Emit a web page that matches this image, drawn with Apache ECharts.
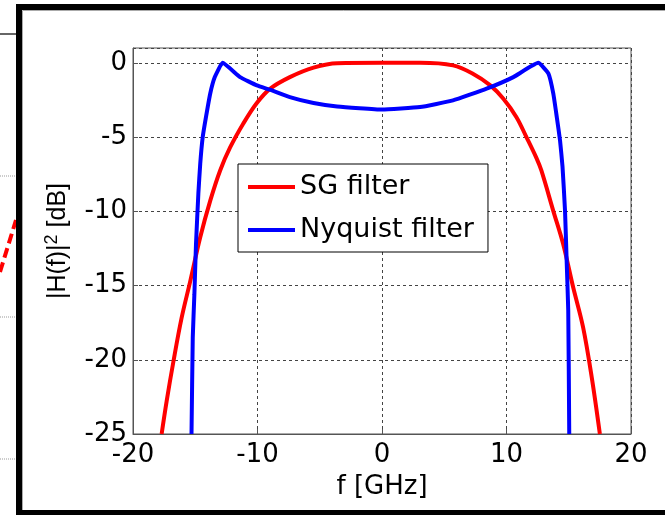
<!DOCTYPE html>
<html>
<head>
<meta charset="utf-8">
<script src="https://cdn.jsdelivr.net/npm/echarts@6/dist/echarts.min.js"></script>
<style>
    html, body {margin: 0; padding: 0; background: #fff;}
    #main {width: 665px; height: 515px;}
</style>
</head>
<body>
<div id="main"></div>
<script>
// values: f in GHz, |H(f)|^2 in dB
const sgFreq = [-17.7, -17.3, -16.75, -16.1, -15.4, -14.6, -13.8, -13.0, -12.2, -11.15, -10.1, -9.0, -7.4, -5.5, -3.6, 0,
    3.05, 5.7, 7.3, 8.7, 9.75, 10.8, 11.6, 12.4, 12.8, 13.75, 14.55, 15.35, 16.15, 16.85, 17.5];
const sgDb = [-25, -22.8, -20.1, -17.2, -14.7, -11.75, -9.3, -7.25, -5.7, -4.1, -2.75, -1.75, -0.96, -0.32, -0.02, 0,
    0, -0.17, -0.73, -1.52, -2.42, -3.66, -5.0, -6.4, -7.25, -9.95, -12.2, -15.1, -17.8, -21.2, -25];

const nyqFreq = [-15.3, -15.2, -15.07, -14.94, -14.75, -14.6, -14.4, -14.14, -13.8, -13.43, -12.8, -11.4, -10.05, -9.0, -7.4, -5.5, -3.6, 0,
    3.05, 5.7, 8.4, 10.55, 12.55, 13.37, 13.76, 14.04, 14.3, 14.5, 14.7, 14.83, 14.96, 15.04];
const nyqDb = [-25, -18.5, -15.6, -12.2, -8.8, -6.8, -5.0, -3.66, -2.08, -0.96, 0, -0.96, -1.52, -1.81, -2.31, -2.71, -2.94, -3.15,
    -2.98, -2.53, -1.74, -0.96, 0, -0.73, -2.08, -3.66, -5.23, -7.0, -9.95, -13.3, -16.7, -25];

const seriesNames = ['SG filter', 'Nyquist filter'];
const xTicks = {min: -20, max: 20, interval: 10};
const yTicks = {min: -25, max: 1, interval: 5};

// the picture is stretched sideways, so the wider DejaVu face fits the flat texts better
const FONT = 'DejaVu Sans';
const FONT_V = 'Liberation Sans';

function pairs(xs, ys) {
    return xs.map(function (x, i) {
        return [x, ys[i]];
    });
}

let myChart = echarts.init(document.getElementById('main'), null, {renderer: 'canvas'});

let option = {
    backgroundColor: '#fff',
    animation: false,
    textStyle: {fontFamily: FONT, color: '#000'},
    grid: {
        left: 133, right: 34, top: 48, bottom: 81,
        show: true, borderColor: '#555', borderWidth: 1, backgroundColor: '#fff'
    },
    legend: {
        data: seriesNames,
        orient: 'vertical',
        left: 238, top: 164,
        padding: [8, 14, 7, 10],
        backgroundColor: '#fff',
        borderColor: '#000', borderWidth: 1,
        icon: 'rect',
        itemWidth: 47, itemHeight: 4,
        itemGap: 13,
        textStyle: {fontFamily: FONT, fontSize: 27, color: '#000', lineHeight: 30}
    },
    xAxis: {
        type: 'value',
        min: xTicks.min, max: xTicks.max, interval: xTicks.interval,
        name: 'f [GHz]',
        nameLocation: 'middle',
        nameGap: 40,
        nameTextStyle: {fontFamily: FONT, fontSize: 26, color: '#000'},
        axisLine: {show: true, onZero: false, lineStyle: {color: '#555', width: 1}},
        axisTick: {show: true, inside: true, length: 5, lineStyle: {color: '#555'}},
        axisLabel: {fontFamily: FONT, fontSize: 26, color: '#000', margin: 8},
        splitLine: {show: true, lineStyle: {color: '#444', type: [3, 3], width: 1}}
    },
    yAxis: {
        type: 'value',
        min: yTicks.min, max: yTicks.max, interval: yTicks.interval,
        name: '|H(f)|{sup|2} [dB]',
        nameLocation: 'middle',
        nameGap: 60,
        nameRotate: 90,
        nameTextStyle: {
            fontFamily: FONT_V, fontSize: 25, color: '#000',
            rich: {sup: {fontFamily: FONT_V, fontSize: 18, color: '#000', verticalAlign: 'top', padding: [0, 0, 12, 0]}}
        },
        axisLine: {show: true, onZero: false, lineStyle: {color: '#555', width: 1}},
        axisTick: {show: true, inside: true, length: 5, lineStyle: {color: '#555'}},
        axisLabel: {
            fontFamily: FONT, fontSize: 26, color: '#000', margin: 6, showMaxLabel: false,
            formatter: function (v) {
                return v > 0 ? '' : String(v);
            }
        },
        splitLine: {show: true, lineStyle: {color: '#444', type: [3, 3], width: 1}}
    },
    series: [
        {
            name: seriesNames[0],
            type: 'line',
            data: pairs(sgFreq, sgDb),
            smooth: 0.35,
            showSymbol: false,
            color: '#ff0000',
            lineStyle: {color: '#ff0000', width: 4}
        },
        {
            name: seriesNames[1],
            type: 'line',
            data: pairs(nyqFreq, nyqDb),
            smooth: 0.12,
            showSymbol: false,
            color: '#0000ff',
            lineStyle: {color: '#0000ff', width: 4}
        }
    ],
    // the cropped neighbouring figure and the thick frame around this one
    graphic: [
        {type: 'line', shape: {x1: 0, y1: 34, x2: 16, y2: 34}, style: {stroke: '#333', lineWidth: 1.5}},
        {type: 'line', shape: {x1: 0, y1: 176, x2: 16, y2: 176}, style: {stroke: '#999', lineWidth: 1, lineDash: [1, 1]}},
        {type: 'line', shape: {x1: 0, y1: 317, x2: 16, y2: 317}, style: {stroke: '#999', lineWidth: 1, lineDash: [1, 1]}},
        {type: 'line', shape: {x1: 0, y1: 459, x2: 16, y2: 459}, style: {stroke: '#999', lineWidth: 1, lineDash: [1, 1]}},
        {type: 'line', shape: {x1: 0, y1: 272, x2: 16, y2: 220}, style: {stroke: '#ff0000', lineWidth: 4, lineDash: [10, 5]}},
        {type: 'rect', shape: {x: 16, y: 4, width: 6, height: 511}, style: {fill: '#000'}},
        {type: 'rect', shape: {x: 16, y: 4, width: 649, height: 6}, style: {fill: '#000'}},
        {type: 'rect', shape: {x: 16, y: 510, width: 649, height: 5}, style: {fill: '#000'}},
        {type: 'line', shape: {x1: 22.5, y1: 10.5, x2: 665, y2: 10.5}, style: {stroke: '#aaa', lineWidth: 1}},
        {type: 'line', shape: {x1: 22.5, y1: 10.5, x2: 22.5, y2: 510}, style: {stroke: '#aaa', lineWidth: 1}}
    ]
};

if (option && typeof option === "object") {
    myChart.setOption(option, true);
}
</script>
</body>
</html>
